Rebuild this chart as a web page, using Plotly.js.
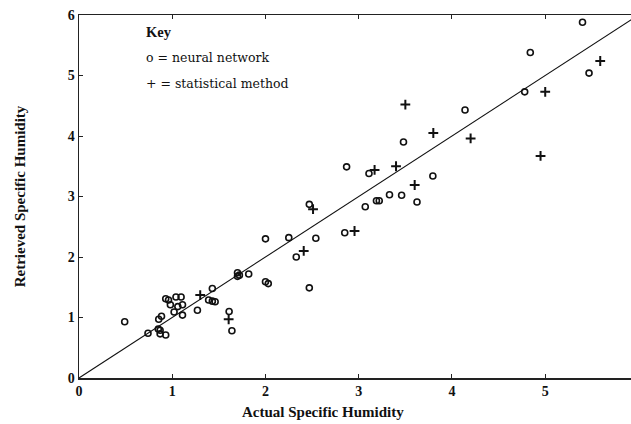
<!DOCTYPE html>
<html>
<head>
<meta charset="utf-8">
<script src="https://cdn.plot.ly/plotly-3.0.1.min.js"></script>
<style>html,body{margin:0;padding:0;background:#fff;}#chart{width:631px;height:424px;}</style>
</head>
<body>
<div id="chart"></div>
<script>
// Neural network retrievals (o)
const nnX = [0.49,0.74,0.85,0.87,0.87,0.93,0.855,0.885,0.93,0.96,0.98,1.04,1.095,1.06,1.11,1.02,1.11,1.27,1.39,1.43,1.46,1.43,1.61,1.64,1.70,1.70,1.72,1.82,2.00,2.03,2.00,2.25,2.33,2.47,2.47,2.54,2.85,2.87,3.07,3.11,3.19,3.22,3.33,3.46,3.48,3.625,3.795,4.14,4.78,4.84,5.40,5.47];
const nnY = [0.93,0.74,0.81,0.79,0.73,0.71,0.97,1.02,1.31,1.29,1.21,1.34,1.34,1.18,1.21,1.09,1.04,1.12,1.29,1.27,1.26,1.48,1.10,0.78,1.74,1.68,1.70,1.72,1.59,1.56,2.30,2.32,2.00,1.49,2.87,2.31,2.40,3.49,2.83,3.38,2.93,2.93,3.03,3.02,3.90,2.91,3.34,4.43,4.73,5.38,5.88,5.04];
// Statistical method retrievals (+)
const stX = [1.30,1.605,2.41,2.51,2.955,3.17,3.40,3.50,3.60,3.80,4.20,4.95,5.00,5.59];
const stY = [1.37,0.97,2.10,2.79,2.43,3.44,3.50,4.52,3.19,4.05,3.96,3.67,4.73,5.24];
// Line of perfect agreement
const lineX = [0, 6];
const lineY = [0, 6];
const xTicks = [0,1,2,3,4,5];
const yTicks = [0,1,2,3,4,5,6];

const serif = "Liberation Serif, Times New Roman, serif";
const wide = "DejaVu Serif, serif";

const traces = [
  {x: lineX, y: lineY, mode: "lines", line: {color: "#111", width: 1.1}, hoverinfo: "skip", showlegend: false, cliponaxis: true},
  {x: nnX, y: nnY, mode: "markers", name: "neural network",
   marker: {symbol: "circle-open", size: 6, color: "#111", line: {width: 1.6, color: "#111"}}, showlegend: false, cliponaxis: false},
  {x: stX, y: stY, mode: "markers", name: "statistical method",
   marker: {symbol: "cross-thin-open", size: 7, color: "#111", line: {width: 2, color: "#111"}}, showlegend: false, cliponaxis: false}
];

const layout = {
  width: 631, height: 424,
  margin: {l: 79, r: 0, t: 15, b: 46},
  paper_bgcolor: "#fff", plot_bgcolor: "#fff",
  font: {family: serif, color: "#111", size: 13},
  xaxis: {
    range: [0, 5.92], tickvals: xTicks, ticktext: xTicks.map(String),
    showline: true, linecolor: "#222", linewidth: 1.5, mirror: "ticks",
    ticks: "inside", ticklen: 4, tickcolor: "#222", tickwidth: 1,
    showgrid: false, zeroline: false,
    tickfont: {family: serif, size: 14, color: "#111", weight: "bold"}
  },
  yaxis: {
    range: [0, 6], tickvals: yTicks, ticktext: yTicks.map(String),
    showline: true, linecolor: "#222", linewidth: 1.5, mirror: false,
    ticks: "inside", ticklen: 4, tickcolor: "#222", tickwidth: 1,
    showgrid: false, zeroline: false,
    tickfont: {family: serif, size: 14, color: "#111", weight: "bold"},
    title: {text: "<b>Retrieved Specific Humidity</b>", font: {family: serif, size: 15, color: "#111"}, standoff: 38}
  },
  annotations: [
    {xref: "paper", yref: "paper", x: 0.442, y: -0.094, xanchor: "center", yanchor: "middle", showarrow: false,
     text: "<b>Actual Specific Humidity</b>", font: {family: serif, size: 15, color: "#111"}},
    {xref: "paper", yref: "paper", x: 0.118, y: 0.952, xanchor: "left", yanchor: "middle", showarrow: false,
     text: "<b>Key</b>", font: {family: serif, size: 14.5, color: "#111"}},
    {xref: "paper", yref: "paper", x: 0.118, y: 0.883, xanchor: "left", yanchor: "middle", showarrow: false,
     text: "o = neural network", font: {family: wide, size: 12.5, color: "#111"}},
    {xref: "paper", yref: "paper", x: 0.118, y: 0.812, xanchor: "left", yanchor: "middle", showarrow: false,
     text: "+ = statistical method", font: {family: wide, size: 12.5, color: "#111"}}
  ]
};

Plotly.newPlot("chart", traces, layout, {displayModeBar: false, staticPlot: true});
</script>
</body>
</html>
